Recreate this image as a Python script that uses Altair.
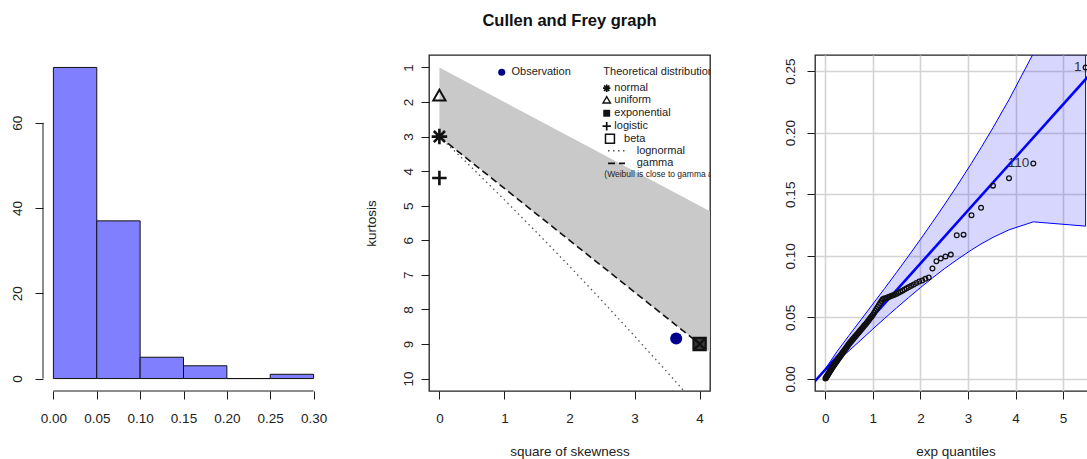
import altair as alt
import numpy as np
import pandas as pd

FONT = "Liberation Sans"
INK = "#1a1a1a"
W, H = 281, 336

# ---------------------------------------------------------------- data
# observed sample, sorted ascending (n = 119)
values = [
    0.0003, 0.0008, 0.0013, 0.0019, 0.0024, 0.0030, 0.0035, 0.0041, 0.0046, 0.0052,
    0.0058, 0.0064, 0.0069, 0.0075, 0.0081, 0.0087, 0.0093, 0.0099, 0.0105, 0.0110,
    0.0116, 0.0121, 0.0127, 0.0133, 0.0138, 0.0144, 0.0150, 0.0156, 0.0162, 0.0168,
    0.0174, 0.0180, 0.0186, 0.0193, 0.0199, 0.0206, 0.0212, 0.0219, 0.0225, 0.0232,
    0.0239, 0.0246, 0.0253, 0.0260, 0.0267, 0.0275, 0.0282, 0.0290, 0.0296, 0.0303,
    0.0309, 0.0316, 0.0323, 0.0330, 0.0337, 0.0344, 0.0351, 0.0359, 0.0366, 0.0374,
    0.0381, 0.0389, 0.0397, 0.0405, 0.0414, 0.0422, 0.0431, 0.0440, 0.0449, 0.0459,
    0.0469, 0.0479, 0.0490, 0.0501, 0.0512, 0.0524, 0.0538, 0.0553, 0.0568, 0.0584,
    0.0600, 0.0616, 0.0633, 0.0647, 0.0653, 0.0656, 0.0660, 0.0665, 0.0670, 0.0675,
    0.0680, 0.0686, 0.0692, 0.0700, 0.0709, 0.0717, 0.0726, 0.0736, 0.0746, 0.0756,
    0.0767, 0.0779, 0.0791, 0.0800, 0.0813, 0.0824, 0.0897, 0.0956, 0.0978, 0.0995,
    0.1010, 0.1167, 0.1172, 0.1330, 0.1390, 0.1570, 0.1630, 0.1750, 0.2530,
]
# observation numbers shown next to the most extreme points
id_values = [0.1750, 0.2530]
id_labels = ["110", "1"]

hist_edges = [0.0, 0.05, 0.10, 0.15, 0.20, 0.25, 0.30]
hist_xticks = [0.0, 0.05, 0.10, 0.15, 0.20, 0.25, 0.30]
hist_yticks = [0, 20, 40, 60]

# Cullen and Frey plane: (square of skewness, kurtosis)
obs_skew2, obs_kurt = 3.64, 8.84
dist_names = ["normal", "uniform", "logistic", "exponential"]
dist_skew2 = [0.0, 0.0, 0.0, 4.0]
dist_kurt = [3.0, 1.8, 4.2, 9.0]
beta_skew2 = [0.0, 4.5]
beta_kurt_top = [1.0, 5.5]
beta_kurt_bottom = [3.0, 9.75]
gamma_skew2 = [0.0, 4.0]
gamma_kurt = [3.0, 9.0]
lnorm_skew2 = [0.0, 0.5, 1.0, 1.5, 2.0, 2.5, 3.0, 3.5, 3.76]
lnorm_kurt = [3.0, 3.90, 4.83, 5.78, 6.75, 7.75, 8.77, 9.81, 10.36]
cf_xticks = [0, 1, 2, 3, 4]
cf_yticks = [1, 2, 3, 4, 5, 6, 7, 8, 9, 10]

# QQ panel: reference line and pointwise envelope
fit_q = [-0.3, 5.8]
fit_y = [-0.0054, 0.2575]
band_q = [0.004, 0.25, 0.5, 0.75, 1.0, 1.25, 1.5, 1.75, 2.0, 2.25, 2.5,
          2.764, 3.074, 3.275, 3.526, 3.863, 4.374, 5.472]
band_lo = [0.0072, 0.0142, 0.0229, 0.0316, 0.0405, 0.0492, 0.0577, 0.0660, 0.0741,
           0.0819, 0.0894, 0.0967, 0.1048, 0.1096, 0.1150, 0.1211, 0.1276, 0.1241]
band_hi = [0.0082, 0.0224, 0.0353, 0.0480, 0.0608, 0.0736, 0.0866, 0.0998, 0.1133,
           0.1271, 0.1412, 0.1565, 0.1752, 0.1878, 0.2040, 0.2269, 0.2644, 0.3625]
qq_xticks = [0, 1, 2, 3, 4, 5]
qq_yticks = [0.0, 0.05, 0.10, 0.15, 0.20, 0.25]

# ---------------------------------------------------------------- tables
counts, _ = np.histogram(values, bins=hist_edges)
hist_df = pd.DataFrame({"start": hist_edges[:-1], "end": hist_edges[1:], "count": counts})
sample_df = pd.DataFrame({"value": values})
sample_df["label"] = ""
for v, lab in zip(id_values, id_labels):
    sample_df.loc[np.isclose(sample_df["value"], v), "label"] = lab

dist_df = pd.DataFrame({"name": dist_names, "s": dist_skew2, "k": dist_kurt})
obs_df = pd.DataFrame({"s": [obs_skew2], "k": [obs_kurt]})
beta_df = pd.DataFrame({"s": beta_skew2, "top": beta_kurt_top, "bottom": beta_kurt_bottom})
gamma_df = pd.DataFrame({"s": gamma_skew2, "k": gamma_kurt})
lnorm_df = pd.DataFrame({"s": lnorm_skew2, "k": lnorm_kurt})
band_df = pd.DataFrame({"q": band_q, "lo": band_lo, "hi": band_hi})
fit_df = pd.DataFrame({"q": fit_q, "y": fit_y})

# ---------------------------------------------------------------- axes
def x_axis(ticks, fmt=None, title=None, grid=False):
    kw = dict(values=ticks, domain=False, grid=grid, ticks=True, tickSize=8,
              tickColor=INK, tickWidth=1, labelFont=FONT, labelFontSize=13.5,
              labelColor="#222", labelPadding=19, labelBaseline="middle",
              labelOverlap=False, labelFlush=False, labelBound=False)
    if fmt:
        kw["format"] = fmt
    if grid:
        kw.update(gridColor="#d4d4d4", gridWidth=1.6)
    if title:
        kw.update(title=title, titleFont=FONT, titleFontSize=13.5, titleFontWeight="normal",
                  titleColor="#222", titleX=W / 2, titleY=60.5, titleAlign="center",
                  titleBaseline="middle")
    else:
        kw["title"] = None
    return alt.Axis(**kw)


def y_axis(ticks, pad, fmt=None, title=None, grid=False):
    kw = dict(values=ticks, domain=False, grid=grid, ticks=True, tickSize=8,
              tickColor=INK, tickWidth=1, labelFont=FONT, labelFontSize=13.5,
              labelColor="#222", labelAngle=270, labelAlign="center",
              labelBaseline="middle", labelPadding=pad, labelOverlap=False,
              labelFlush=False, labelBound=False)
    if fmt:
        kw["format"] = fmt
    if grid:
        kw.update(gridColor="#d4d4d4", gridWidth=1.6)
    if title:
        kw.update(title=title, titleFont=FONT, titleFontSize=13.5, titleFontWeight="normal",
                  titleColor="#222", titleX=-58, titleY=H / 2, titleAngle=270,
                  titleAlign="center", titleBaseline="middle")
    else:
        kw["title"] = None
    return alt.Axis(**kw)

# ---------------------------------------------------------------- histogram
SX1 = alt.Scale(domain=[-0.012, 0.312], nice=False, zero=False)
SY1 = alt.Scale(domain=[-2.92, 75.92], nice=False, zero=False)
AX1 = x_axis(hist_xticks, fmt=".2f")
AY1 = y_axis(hist_yticks, pad=17.5)

bars = alt.Chart(hist_df).mark_rect(fill="#8080ff", stroke="#111", strokeWidth=1).encode(
    x=alt.X("start:Q", scale=SX1, axis=AX1),
    x2="end:Q",
    y=alt.Y("count:Q", scale=SY1, axis=AY1),
    y2=alt.Y2("zero:Q"),
).transform_calculate(zero="0")

yline1 = alt.Chart(pd.DataFrame({"lo": [min(hist_yticks)], "hi": [max(hist_yticks)]})).mark_rule(
    color=INK, strokeWidth=1).encode(
    x=alt.value(0),
    y=alt.Y("lo:Q", scale=SY1, axis=AY1),
    y2="hi:Q",
)
xline1 = alt.Chart(pd.DataFrame({"lo": [min(hist_xticks)], "hi": [max(hist_xticks)]})).mark_rule(
    color=INK, strokeWidth=1).encode(
    y=alt.value(H),
    x=alt.X("lo:Q", scale=SX1, axis=AX1),
    x2="hi:Q",
)
panel1 = alt.layer(bars, yline1, xline1).properties(width=W, height=H)

# ---------------------------------------------------------------- Cullen and Frey
SX2 = alt.Scale(domain=[-0.16, 4.16], nice=False, zero=False)
SY2 = alt.Scale(domain=[0.64, 10.36], nice=False, zero=False, reverse=True)
AX2 = x_axis(cf_xticks, title="square of skewness")
AY2 = y_axis(cf_yticks, pad=13, title="kurtosis")


def cf(data):
    return alt.Chart(data)


def enc_xy(xf="s:Q", yf="k:Q"):
    return dict(x=alt.X(xf, scale=SX2, axis=AX2), y=alt.Y(yf, scale=SY2, axis=AY2))


ASTERISK = "M-1,0L1,0M0,-1L0,1M-0.72,-0.72L0.72,0.72M-0.72,0.72L0.72,-0.72"
PLUS = "M-1,0L1,0M0,-1L0,1"
BOXX = "M-1,-1L1,-1L1,1L-1,1ZM-1,-1L1,1M-1,1L1,-1"

beta_area = cf(beta_df).mark_area(color="#c9c9c9", clip=True).encode(
    x=alt.X("s:Q", scale=SX2, axis=AX2),
    y=alt.Y("top:Q", scale=SY2, axis=AY2),
    y2="bottom:Q",
)
lnorm_line = cf(lnorm_df).mark_line(color="#555", strokeWidth=1.3, strokeDash=[1.5, 3.5],
                                    clip=True).encode(**enc_xy())
gamma_line = cf(gamma_df).mark_line(color="#111", strokeWidth=1.6, strokeDash=[7, 4],
                                    clip=True).encode(**enc_xy())

normal_pt = cf(dist_df).transform_filter("datum.name == 'normal'").mark_point(
    shape=ASTERISK, size=240, color="#111", strokeWidth=2.6, opacity=1).encode(**enc_xy())
uniform_pt = cf(dist_df).transform_filter("datum.name == 'uniform'").mark_point(
    shape="triangle-up", size=150, color="#111", strokeWidth=2, opacity=1).encode(**enc_xy())
logistic_pt = cf(dist_df).transform_filter("datum.name == 'logistic'").mark_point(
    shape=PLUS, size=210, color="#111", strokeWidth=2.6, opacity=1).encode(**enc_xy())
expo_pt = cf(dist_df).transform_filter("datum.name == 'exponential'").mark_point(
    shape=BOXX, size=150, color="#111", fill="#3a3a3a", filled=False, strokeWidth=2.2,
    opacity=1).encode(**enc_xy())
obs_pt = cf(obs_df).mark_point(shape="circle", size=145, filled=True, color="#00008b",
                               opacity=1).encode(**enc_xy())

# legend, placed in plot coordinates
leg_sym_s, leg_txt_s = 2.572, 2.689
leg = {
    "obs": (0.958, 1.108, 1.14),
    "normal": 1.60, "uniform": 1.935, "exponential": 2.325, "logistic": 2.70,
    "beta": 3.06, "lognormal": 3.41, "gamma": 3.775, "note": 4.09,
}
TXT = dict(font=FONT, fontSize=11, color="#222", align="left", baseline="middle")

leg_obs_dot = cf(pd.DataFrame({"s": [leg["obs"][0]], "k": [leg["obs"][2]]})).mark_point(
    shape="circle", size=50, filled=True, color="#00008b", opacity=1).encode(**enc_xy())
leg_head = cf(pd.DataFrame({"s": [leg["obs"][1], 2.520], "k": [leg["obs"][2]] * 2,
                            "t": ["Observation", "Theoretical distributions"]})).mark_text(
    clip=True, **TXT).encode(text="t:N", **enc_xy())
leg_txt = cf(pd.DataFrame({
    "s": [leg_txt_s] * 4 + [2.838, 3.033, 3.033],
    "k": [leg["normal"], leg["uniform"], leg["exponential"], leg["logistic"],
          leg["beta"], leg["lognormal"], leg["gamma"]],
    "t": ["normal", "uniform", "exponential", "logistic", "beta", "lognormal", "gamma"],
})).mark_text(clip=True, **TXT).encode(text="t:N", **enc_xy())
leg_note = cf(pd.DataFrame({"s": [2.535], "k": [leg["note"]],
                            "t": ["(Weibull is close to gamma and lognormal)"]})).mark_text(
    clip=True, **{**TXT, "fontSize": 8.5}).encode(text="t:N", **enc_xy())


def leg_sym(k, **mk):
    return cf(pd.DataFrame({"s": [leg_sym_s], "k": [k]})).mark_point(
        color="#111", opacity=1, **mk).encode(**enc_xy())


leg_syms = [
    leg_sym(leg["normal"], shape=ASTERISK, size=55, strokeWidth=1.7),
    leg_sym(leg["uniform"], shape="triangle-up", size=55, strokeWidth=1.4),
    leg_sym(leg["exponential"], shape="square", size=48, filled=True),
    leg_sym(leg["logistic"], shape=PLUS, size=70, strokeWidth=1.7),
]
leg_beta = cf(pd.DataFrame({"s": [2.622], "k": [leg["beta"]]})).mark_point(
    shape="square", size=80, color="#111", strokeWidth=1.5, opacity=1).encode(**enc_xy())
leg_lines = [
    cf(pd.DataFrame({"s": [2.592], "s2": [2.853], "k": [leg["lognormal"]]})).mark_rule(
        color="#555", strokeWidth=1.3, strokeDash=[1.5, 3.5]).encode(
        x=alt.X("s:Q", scale=SX2, axis=AX2), x2="s2:Q", y=alt.Y("k:Q", scale=SY2, axis=AY2)),
    cf(pd.DataFrame({"s": [2.592], "s2": [2.853], "k": [leg["gamma"]]})).mark_rule(
        color="#111", strokeWidth=1.6, strokeDash=[7, 4]).encode(
        x=alt.X("s:Q", scale=SX2, axis=AX2), x2="s2:Q", y=alt.Y("k:Q", scale=SY2, axis=AY2)),
]

panel2 = alt.layer(
    beta_area, lnorm_line, gamma_line,
    normal_pt, uniform_pt, logistic_pt, expo_pt, obs_pt,
    leg_obs_dot, leg_head, leg_txt, leg_note, *leg_syms, leg_beta, *leg_lines,
).properties(
    width=W, height=H,
    view=alt.ViewBackground(stroke="#222", strokeWidth=1.3),
    title=alt.TitleParams("Cullen and Frey graph", font=FONT, fontSize=16.5,
                          fontWeight="bold", color="#111", anchor="middle",
                          frame="group", offset=26),
)

# ---------------------------------------------------------------- exp QQ plot
SX3 = alt.Scale(domain=[-0.215, 5.691], nice=False, zero=False)
SY3 = alt.Scale(domain=[-0.0098, 0.2631], nice=False, zero=False)
AX3 = x_axis(qq_xticks, title="exp quantiles", grid=True)
AY3 = y_axis(qq_yticks, pad=17, fmt=".2f", grid=True)

band = alt.Chart(band_df).mark_area(
    fill="#0000ff", fillOpacity=0.16, stroke="#0000ff", strokeWidth=1, clip=True).encode(
    x=alt.X("q:Q", scale=SX3, axis=AX3),
    y=alt.Y("lo:Q", scale=SY3, axis=AY3),
    y2="hi:Q",
)
fit = alt.Chart(fit_df).mark_line(color="#0000ff", strokeWidth=2.6, clip=True).encode(
    x=alt.X("q:Q", scale=SX3, axis=AX3),
    y=alt.Y("y:Q", scale=SY3, axis=AY3),
)
qq_base = alt.Chart(sample_df).transform_window(
    rank="row_number()", sort=[alt.SortField("value", order="ascending")]
).transform_joinaggregate(n="count()").transform_calculate(
    q="-log(1 - (datum.rank - 0.5) / datum.n)"
)
qq_pts = qq_base.mark_point(shape="circle", size=22, filled=False, color="#111",
                            strokeWidth=1.3, opacity=1, clip=True).encode(
    x=alt.X("q:Q", scale=SX3, axis=AX3),
    y=alt.Y("value:Q", scale=SY3, axis=AY3),
)
qq_ids = qq_base.transform_filter("datum.label != ''").mark_text(
    font=FONT, fontSize=13.5, color="#333", align="right", baseline="middle", dx=-4,
    clip=True).encode(
    x=alt.X("q:Q", scale=SX3, axis=AX3),
    y=alt.Y("value:Q", scale=SY3, axis=AY3),
    text="label:N",
)
panel3 = alt.layer(band, fit, qq_pts, qq_ids).properties(
    width=W, height=H, view=alt.ViewBackground(stroke="#222", strokeWidth=1.3))

# ---------------------------------------------------------------- page
chart = alt.hconcat(panel1, panel2, panel3, spacing=105, bounds="flush").properties(
    autosize=alt.AutoSizeParams(type="none"),
    padding={"left": 43, "top": 55, "right": 1087 - 43, "bottom": 459 - 55},
    background="white",
).configure_view(stroke=None)

chart.save("out.html", embed_options={"renderer": "svg", "actions": False})
